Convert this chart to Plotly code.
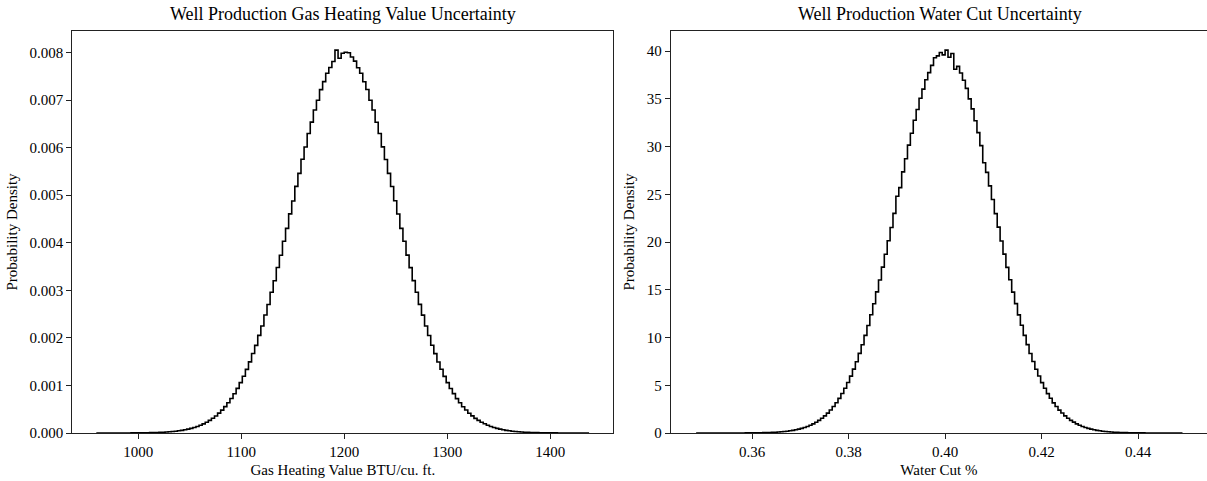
import numpy as np
import plotly.graph_objects as go

# ---------------- data ----------------
gas_bin_start = 960.0
gas_bin_width = 3.0
gas_density = [
    0.0000003, 0.0, 0.0000003, 0.0, 0.0000003, 0.0000003, 0.0000007, 0.0000003, 0.0000010, 0.0000013,
    0.0000013, 0.0000020, 0.0000023, 0.0000027, 0.0000037, 0.0000043, 0.0000057, 0.0000070, 0.0000090, 0.0000107,
    0.0000140, 0.0000167, 0.0000210, 0.0000253, 0.0000313, 0.0000380, 0.0000463, 0.0000560, 0.0000677, 0.0000810,
    0.0000973, 0.0001157, 0.0001373, 0.0001627, 0.0001923, 0.0002263, 0.0002647, 0.0003093, 0.0003587, 0.0004173,
    0.0004807, 0.0005543, 0.0006347, 0.0007257, 0.0008263, 0.0009373, 0.0010583, 0.0011917, 0.0013383, 0.0014950,
    0.001671, 0.001843, 0.002052, 0.002249, 0.002481, 0.002702, 0.002960, 0.003201, 0.003479, 0.003738,
    0.004032, 0.004302, 0.004607, 0.004879, 0.005186, 0.005458, 0.005755, 0.006015, 0.006297, 0.006536,
    0.006790, 0.006998, 0.007220, 0.007388, 0.007563, 0.007686, 0.007812, 0.008050, 0.007880, 0.007985,
    0.008005, 0.007995, 0.007905, 0.007820, 0.007680, 0.007565, 0.007385, 0.007222, 0.006995, 0.006790,
    0.006535, 0.006296, 0.006016, 0.005752, 0.005458, 0.005184, 0.004882, 0.004604, 0.004302, 0.004031,
    0.003740, 0.003477, 0.003203, 0.002958, 0.002704, 0.002479, 0.002250, 0.002049, 0.001845, 0.001669,
    0.0014930, 0.0013400, 0.0011900, 0.0010600, 0.0009350, 0.0008280, 0.0007230, 0.0006370, 0.0005520, 0.0004830,
    0.0004150, 0.0003610, 0.0003070, 0.0002660, 0.0002250, 0.0001930, 0.0001620, 0.0001380, 0.0001150, 0.0000973,
    0.0000807, 0.0000677, 0.0000557, 0.0000463, 0.0000377, 0.0000313, 0.0000253, 0.0000210, 0.0000167, 0.0000137,
    0.0000110, 0.0000087, 0.0000070, 0.0000057, 0.0000043, 0.0000037, 0.0000027, 0.0000023, 0.0000017, 0.0000013,
    0.0000010, 0.0000007, 0.0000007, 0.0000003, 0.0000003, 0.0, 0.0000003, 0.0, 0.0000003,
]

wc_bin_start = 0.3484
wc_bin_width = 0.0006
wc_density = [
    0.0, 0.00007, 0.0, 0.00013, 0.00013, 0.0002, 0.0004, 0.0005, 0.0008, 0.0011,
    0.0013, 0.0017, 0.0023, 0.0030, 0.0041, 0.0049, 0.0066, 0.0085, 0.0110, 0.0141,
    0.0178, 0.0221, 0.0281, 0.0352, 0.0441, 0.0549, 0.0681, 0.0842, 0.1040, 0.1276,
    0.1561, 0.1902, 0.2307, 0.2793, 0.3369, 0.405, 0.485, 0.579, 0.686, 0.816,
    0.958, 1.132, 1.322, 1.547, 1.797, 2.083, 2.408, 2.772, 3.168, 3.628,
    4.132, 4.681, 5.288, 5.962, 6.690, 7.470, 8.335, 9.240, 10.23, 11.26,
    12.39, 13.53, 14.78, 16.03, 17.37, 18.72, 20.13, 21.53, 23.00, 24.80,
    25.70, 27.35, 28.72, 30.15, 31.40, 32.75, 33.88, 35.06, 36.02, 37.00,
    37.75, 38.50, 39.30, 39.50, 39.85, 39.60, 40.10, 39.35, 39.75, 38.10,
    38.40, 37.70, 36.95, 36.10, 35.00, 33.95, 32.70, 31.46, 30.10, 28.30,
    27.30, 25.88, 24.45, 22.98, 21.56, 20.11, 18.74, 17.35, 16.05, 14.76,
    13.55, 12.37, 11.28, 10.22, 9.26, 8.32, 7.49, 6.68, 5.97, 5.28,
    4.69, 4.12, 3.64, 3.16, 2.78, 2.40, 2.09, 1.79, 1.55, 1.32,
    1.135, 0.955, 0.818, 0.685, 0.580, 0.484, 0.406, 0.336, 0.280, 0.230,
    0.191, 0.155, 0.129, 0.103, 0.085, 0.067, 0.056, 0.043, 0.036, 0.027,
    0.023, 0.017, 0.014, 0.011, 0.0085, 0.0064, 0.0051, 0.0040, 0.0029, 0.0024,
    0.0017, 0.0012, 0.0011, 0.0007, 0.0005, 0.0004, 0.0003, 0.0001,
]

gas_title = "Well Production Gas Heating Value Uncertainty"
wc_title = "Well Production Water Cut Uncertainty"
gas_xlabel = "Gas Heating Value BTU/cu. ft."
wc_xlabel = "Water Cut %"
ylabel = "Probability Density"
gas_xticks = [1000, 1100, 1200, 1300, 1400]
gas_yticks = [0.000, 0.001, 0.002, 0.003, 0.004, 0.005, 0.006, 0.007, 0.008]
wc_xticks = [0.36, 0.38, 0.40, 0.42, 0.44]
wc_yticks = [0, 5, 10, 15, 20, 25, 30, 35, 40]


def step_outline(start, width, vals):
    edges = start + width * np.arange(len(vals) + 1)
    x = [edges[0]] + list(edges[:-1]) + [edges[-1]]
    y = [0.0] + list(vals) + [0.0]
    return x, y


W, H = 1207, 481
FONT = "Liberation Serif, Times New Roman, serif"

gx, gy = step_outline(gas_bin_start, gas_bin_width, gas_density)
wx, wy = step_outline(wc_bin_start, wc_bin_width, wc_density)

fig = go.Figure()
fig.add_trace(go.Scatter(x=gx, y=gy, mode="lines", line=dict(color="black", width=1.6, shape="hv"),
                         xaxis="x", yaxis="y", showlegend=False, hoverinfo="skip"))
fig.add_trace(go.Scatter(x=wx, y=wy, mode="lines", line=dict(color="black", width=1.6, shape="hv"),
                         xaxis="x2", yaxis="y2", showlegend=False, hoverinfo="skip"))

left_px = (72.3, 613.4)
right_px = (670.8, 1209.0)
left_dom = [left_px[0] / W, left_px[1] / W]
right_dom = [right_px[0] / W, 1.0]

axis_common = dict(showgrid=False, zeroline=False, ticks="outside", ticklen=5, tickwidth=1.1,
                   tickcolor="#222", linecolor="#222", linewidth=1.2,
                   tickfont=dict(family=FONT, size=15, color="black"))

gas_ymax = max(gas_density) * 1.05
wc_ymax = max(wc_density) * 1.05
wc_px_per_unit = 4825.0

fig.update_layout(
    width=W, height=H,
    margin=dict(l=0, r=0, t=31, b=48),
    paper_bgcolor="white", plot_bgcolor="white",
    font=dict(family=FONT, size=15, color="black"),
    xaxis=dict(domain=left_dom, range=[935.9, 1461.4], tickvals=gas_xticks,
               showline=True, mirror=True, anchor="y",
               title=dict(text=gas_xlabel, font=dict(family=FONT, size=15), standoff=5),
               **axis_common),
    yaxis=dict(domain=[0, 1], range=[0, gas_ymax], tickvals=gas_yticks, tickformat=".3f",
               showline=True, mirror=True, anchor="x",
               title=dict(text=ylabel, font=dict(family=FONT, size=15), standoff=8),
               **axis_common),
    xaxis2=dict(domain=right_dom, range=[0.34315, 0.34315 + (W - right_px[0]) / wc_px_per_unit],
                tickvals=wc_xticks, tickformat=".2f", showline=True, mirror=True, anchor="y2",
                title=dict(text=wc_xlabel, font=dict(family=FONT, size=15), standoff=5),
                **axis_common),
    yaxis2=dict(domain=[0, 1], range=[0, wc_ymax], tickvals=wc_yticks,
                showline=True, mirror=False, anchor="x2",
                title=dict(text=ylabel, font=dict(family=FONT, size=15), standoff=8),
                **axis_common),
    annotations=[
        dict(text=gas_title, xref="paper", yref="paper", x=(left_px[0] + left_px[1]) / 2 / W, y=1,
             xanchor="center", yanchor="bottom", yshift=5, showarrow=False,
             font=dict(family=FONT, size=18, color="black")),
        dict(text=wc_title, xref="paper", yref="paper", x=(right_px[0] + right_px[1]) / 2 / W, y=1,
             xanchor="center", yanchor="bottom", yshift=5, showarrow=False,
             font=dict(family=FONT, size=18, color="black")),
    ],
)

fig.write_html("out.html")
